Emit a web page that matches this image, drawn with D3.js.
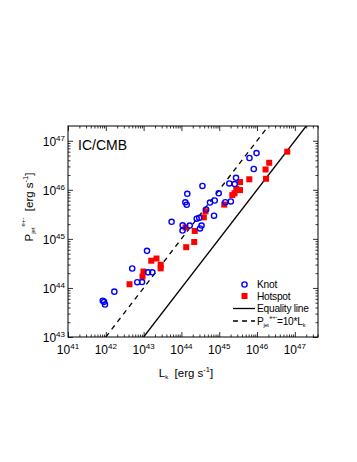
<!DOCTYPE html>
<html lang="en">
<head>
<meta charset="UTF-8">
<title>IC/CMB jet power</title>
<script src="https://d3js.org/d3.v7.min.js"></script>
<style>
    body { margin: 0; background: #fff; }
    svg { font-family: "Liberation Sans", Arial, sans-serif; }
</style>
</head>
<body>
<div id="chart"></div>
<script>
    // knots (open blue circles)
    const knotL = [8.3e41, 9.0e41, 9.5e41, 1.68e42, 5.0e42, 6.8e42, 9.1e42, 1.23e43, 1.31e43, 1.70e43,
        5.5e43, 1.08e44, 1.07e44, 1.27e44, 1.38e44, 1.43e44, 1.66e44, 2.54e44, 2.96e44, 3.1e44,
        3.4e44, 3.6e44, 4.5e44, 5.7e44, 7.6e44, 7.3e44, 9.7e44, 1.45e45, 1.85e45, 2.03e45,
        2.57e45, 2.78e45, 6.3e45, 8.2e45, 9.7e45];
    const knotP = [5.5e43, 5.2e43, 4.6e43, 8.4e43, 2.49e44, 1.31e44, 1.32e44, 5.7e44, 2.08e44, 2.08e44,
        2.23e45, 1.89e45, 1.48e45, 5.57e45, 4.95e45, 8.3e45, 1.87e45, 2.58e45, 2.70e45, 1.63e45,
        1.87e45, 1.20e46, 3.97e45, 5.5e45, 6.06e45, 2.97e45, 8.5e45, 5.6e45, 1.35e46, 5.8e45,
        1.31e46, 1.76e46, 4.45e46, 2.66e46, 5.6e46];

    // hotspots (filled red squares)
    const hotL = [4.24e42, 9.35e42, 9.9e42, 1.59e43, 2.19e43, 2.83e43, 2.83e43, 1.28e44, 1.34e44, 2.18e44,
        2.25e44, 3.92e44, 4.34e44, 1.36e45, 2.22e45, 2.54e45, 2.83e45, 3.55e45, 3.55e45, 6.25e45,
        1.68e46, 1.73e46, 2.10e46, 6.3e46];
    const hotP = [1.19e44, 1.71e44, 2.16e44, 3.59e44, 3.98e44, 2.96e44, 2.51e44, 1.71e45, 6.77e44, 8.64e44,
        1.45e45, 2.75e45, 3.65e45, 5.0e45, 7.8e45, 8.5e45, 1.05e46, 9.9e45, 1.44e46, 1.64e46,
        2.6e46, 1.68e46, 3.56e46, 6.0e46];

    const xTicks = [1e41, 1e42, 1e43, 1e44, 1e45, 1e46, 1e47];
    const xExp = ["41", "42", "43", "44", "45", "46", "47"];
    const yTicks = [1e43, 1e44, 1e45, 1e46, 1e47];
    const yExp = ["43", "44", "45", "46", "47"];

    const W = 357, H = 462;
    const pL = 68, pR = 318, pT = 126, pB = 337;

    const svg = d3.select("#chart").append("svg")
        .attr("width", W)
        .attr("height", H);

    svg.append("rect").attr("width", W).attr("height", H).attr("fill", "#fff");

    const x = d3.scaleLog().domain([1e41, 4.1e47]).range([pL, pR]);
    const y = d3.scaleLog().domain([1e43, 2e47]).range([pB, pT]);

    function minors(domain) {
        const out = [];
        for (let e = Math.floor(Math.log10(domain[0])); e <= Math.ceil(Math.log10(domain[1])); e++) {
            for (let k = 2; k <= 9; k++) {
                const v = k * Math.pow(10, e);
                if (v > domain[0] && v < domain[1]) out.push(v);
            }
        }
        return out;
    }

    // inward ticks on all four sides
    function ticks(axis, scale, vals, size, tr) {
        const g = svg.append("g")
            .attr("transform", tr)
            .call(axis(scale).tickValues(vals).tickSize(-size).tickFormat(""));
        g.select(".domain").remove();
        g.selectAll("line").attr("stroke", "#000").attr("stroke-width", 0.8);
    }
    const xm = minors(x.domain()), ym = minors(y.domain());
    ticks(d3.axisBottom, x, xTicks, 5, `translate(0,${pB})`);
    ticks(d3.axisBottom, x, xm, 2.5, `translate(0,${pB})`);
    ticks(d3.axisTop, x, xTicks, 5, `translate(0,${pT})`);
    ticks(d3.axisTop, x, xm, 2.5, `translate(0,${pT})`);
    ticks(d3.axisLeft, y, yTicks, 5, `translate(${pL},0)`);
    ticks(d3.axisLeft, y, ym, 2.5, `translate(${pL},0)`);
    ticks(d3.axisRight, y, yTicks, 5, `translate(${pR},0)`);
    ticks(d3.axisRight, y, ym, 2.5, `translate(${pR},0)`);

    svg.append("rect")
        .attr("x", pL).attr("y", pT)
        .attr("width", pR - pL).attr("height", pB - pT)
        .attr("fill", "none").attr("stroke", "#000").attr("stroke-width", 1);

    // tick labels 10^n
    xTicks.forEach((v, i) => {
        const t = svg.append("text")
            .attr("x", x(v)).attr("y", pB + 17)
            .attr("text-anchor", "middle").attr("font-size", 12);
        t.append("tspan").text("10");
        t.append("tspan").attr("font-size", 8).attr("dy", -5).text(xExp[i]);
    });
    yTicks.forEach((v, i) => {
        const t = svg.append("text")
            .attr("x", pL - 3).attr("y", y(v) + 5)
            .attr("text-anchor", "end").attr("font-size", 12);
        t.append("tspan").text("10");
        t.append("tspan").attr("font-size", 8).attr("dy", -5).text(yExp[i]);
    });

    // reference lines
    svg.append("clipPath").attr("id", "plot")
        .append("rect").attr("x", pL).attr("y", pT)
        .attr("width", pR - pL).attr("height", pB - pT);

    svg.append("line")
        .attr("clip-path", "url(#plot)")
        .attr("x1", x(1e43)).attr("y1", y(1e43))
        .attr("x2", x(2e47)).attr("y2", y(2e47))
        .attr("stroke", "#000").attr("stroke-width", 1.3);
    svg.append("line")
        .attr("clip-path", "url(#plot)")
        .attr("x1", x(1e42)).attr("y1", y(1e43))
        .attr("x2", x(2e46)).attr("y2", y(2e47))
        .attr("stroke", "#000").attr("stroke-width", 1.3)
        .attr("stroke-dasharray", "5,4.5");

    // points
    svg.append("g").selectAll("rect")
        .data(hotL.map((d, i) => [d, hotP[i]]))
        .enter().append("rect")
        .attr("x", d => x(d[0]) - 3).attr("y", d => y(d[1]) - 3)
        .attr("width", 6).attr("height", 6)
        .attr("fill", "#ff0000");

    svg.append("g").selectAll("circle")
        .data(knotL.map((d, i) => [d, knotP[i]]))
        .enter().append("circle")
        .attr("cx", d => x(d[0])).attr("cy", d => y(d[1]))
        .attr("r", 2.6)
        .attr("fill", "none")
        .attr("stroke", "#0000ff").attr("stroke-width", 1.4);

    // panel label
    svg.append("text").attr("x", 78).attr("y", 149.5)
        .attr("font-size", 14).text("IC/CMB");

    // legend
    const lg = svg.append("g").attr("font-size", 10.2).attr("letter-spacing", -0.25);
    lg.append("circle").attr("cx", 244.5).attr("cy", 284.5).attr("r", 2.6)
        .attr("fill", "none").attr("stroke", "#0000ff").attr("stroke-width", 1.4);
    lg.append("text").attr("x", 257).attr("y", 288.3).text("Knot");
    lg.append("rect").attr("x", 241.5).attr("y", 293).attr("width", 6).attr("height", 6).attr("fill", "#ff0000");
    lg.append("text").attr("x", 257).attr("y", 300.3).text("Hotspot");
    lg.append("line").attr("x1", 233).attr("x2", 255).attr("y1", 308.5).attr("y2", 308.5)
        .attr("stroke", "#000").attr("stroke-width", 1.3);
    lg.append("text").attr("x", 257).attr("y", 312.3).text("Equality line");
    lg.append("line").attr("x1", 233).attr("x2", 255).attr("y1", 321).attr("y2", 321)
        .attr("stroke", "#000").attr("stroke-width", 1.3).attr("stroke-dasharray", "5,4");
    const lt = lg.append("text").attr("x", 257).attr("y", 324.8);
    lt.append("tspan").text("P");
    lt.append("tspan").attr("font-size", 5.5).attr("dy", 2).text("jet");
    lt.append("tspan").attr("font-size", 5.5).attr("dy", -8).attr("dx", 1).text("e+-");
    lt.append("tspan").attr("dy", 6).text("=10*L");
    lt.append("tspan").attr("font-size", 5.5).attr("dy", 2).text("k");

    // axis titles
    const xt = svg.append("text").attr("x", 186).attr("y", 377)
        .attr("text-anchor", "middle").attr("font-size", 11.5);
    xt.append("tspan").text("L");
    xt.append("tspan").attr("font-size", 6).attr("dy", 2).text("k");
    xt.append("tspan").attr("dy", -2).text("\u00a0\u00a0[erg s");
    xt.append("tspan").attr("font-size", 7.5).attr("dy", -5).text("-1");
    xt.append("tspan").attr("dy", 5).text("]");

    const yt = svg.append("text")
        .attr("transform", "translate(33,207) rotate(-90)")
        .attr("text-anchor", "middle").attr("font-size", 11.5);
    yt.append("tspan").text("P");
    yt.append("tspan").attr("font-size", 6).attr("dy", 2).text("jet");
    yt.append("tspan").attr("font-size", 6).attr("dy", -10).attr("dx", 1).text("e+-");
    yt.append("tspan").attr("dy", 8).text("\u00a0\u00a0[erg s");
    yt.append("tspan").attr("font-size", 7.5).attr("dy", -5).text("-1");
    yt.append("tspan").attr("dy", 5).text("]");
</script>
</body>
</html>
